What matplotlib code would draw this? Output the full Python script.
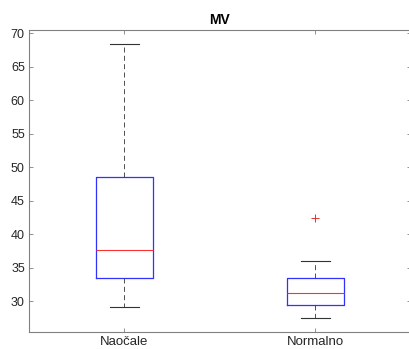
import matplotlib
matplotlib.use("Agg")
import matplotlib.pyplot as plt

plt.rcParams["font.family"] = ["Liberation Sans", "DejaVu Sans"]

groups = ["Naočale", "Normalno"]
q1 = [33.5, 29.5]
med = [37.6, 31.25]
q3 = [48.6, 33.4]
whislo = [29.1, 27.5]
whishi = [68.4, 36.0]
fliers = [[], [42.4]]

stats = [dict(label=g, q1=a, med=m, q3=b, whislo=lo, whishi=hi, fliers=f)
         for g, a, m, b, lo, hi, f in zip(groups, q1, med, q3, whislo, whishi, fliers)]

fig = plt.figure(figsize=(4.09, 3.49), dpi=100)
# right edge of the axes sits just past the image, as in the cropped original
ax = fig.add_axes([29 / 409, 17 / 349, 382 / 409, 302 / 349])
axc = (0.15, 0.15, 0.15)

ax.bxp(stats, positions=[1, 2], widths=0.3,
       boxprops=dict(color="#3030ff", linewidth=0.9),
       medianprops=dict(color="#ff3030", linewidth=0.8),
       whiskerprops=dict(color="#333333", linestyle=(0, (6, 4)), linewidth=0.6),
       capprops=dict(color="#333333", linewidth=0.8),
       flierprops=dict(marker="+", markeredgecolor="#e03030", markersize=6,
                       markeredgewidth=0.7, linestyle="none"),
       capwidths=0.15)

ax.set_xlim(0.5, 2.5)
ax.set_ylim(25.4, 70.5)
ax.set_yticks(range(30, 71, 5))
ax.set_title("MV", fontsize=10, fontweight="bold", pad=4)
ax.tick_params(direction="in", length=3, width=0.6, colors=(0.5, 0.5, 0.5),
               labelcolor=axc, top=True, right=True)
ax.tick_params(axis="y", labelsize=9, pad=3)
ax.tick_params(axis="x", labelsize=9.5, pad=3)
for s in ax.spines.values():
    s.set_color((0.5, 0.5, 0.5))
    s.set_linewidth(0.8)

fig.savefig("out.png", dpi=100)
